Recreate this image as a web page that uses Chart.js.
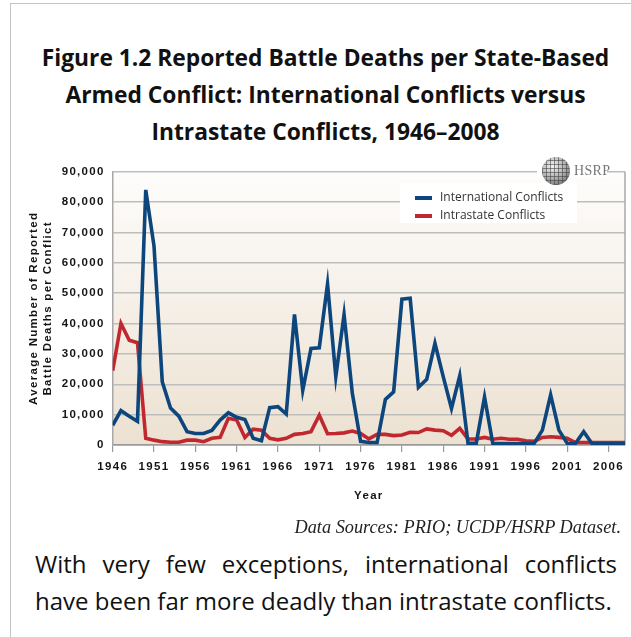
<!DOCTYPE html>
<html>
<head>
<meta charset="utf-8">
<script src="https://cdn.jsdelivr.net/npm/chart.js@4.4.1/dist/chart.umd.min.js"></script>
<style>
  html, body { margin: 0; padding: 0; background: #fff; }
  body { width: 631px; height: 637px; position: relative; overflow: hidden; }
  #frame { position: absolute; left: 10px; top: 3px; right: -2px; bottom: -2px;
           border-left: 1.5px solid #c4c4c4; border-top: 1.5px solid #c4c4c4; }
  #title { position: absolute; left: 20px; width: 611px; top: 38.5px; text-align: center;
           font-family: "Open Sans", sans-serif; font-weight: 700; font-size: 22.8px;
           line-height: 37px; color: #111; }
  #chartWrap { position: absolute; left: 0; top: 150px; width: 631px; height: 370px; }
  #legend { position: absolute; left: 400px; top: 183px; width: 177px; height: 40px;
            background: #fff; }
  .lg { position: absolute; left: 15px; height: 16px; font-family: "Open Sans", sans-serif;
        font-size: 12px; color: #333; white-space: nowrap; }
  .lg i { position: absolute; left: 0; top: 7px; width: 17px; height: 4px; }
  .lg span { position: absolute; left: 25px; top: -1px; }
  #logoMask { position: absolute; left: 537px; top: 166px; width: 70px; height: 11px; background: #fff; }
  #globe { position: absolute; left: 542px; top: 157px; width: 28px; height: 28px; border-radius: 50%;
           background:
             repeating-linear-gradient(90deg, rgba(60,60,60,0.55) 0 1px, transparent 1px 4px),
             repeating-linear-gradient(0deg, rgba(60,60,60,0.55) 0 1px, transparent 1px 4px),
             radial-gradient(circle at 38% 32%, #f4f4f4 0%, #b5b5b5 45%, #6e6e6e 85%, #555 100%); }
  #hsrp { position: absolute; left: 574px; top: 163px; font-family: "Liberation Serif", serif;
          font-size: 14px; color: #777; letter-spacing: 0.3px; }
  #source { position: absolute; right: 10px; top: 517px; font-family: "Liberation Serif", serif;
            font-style: italic; font-size: 18.3px; line-height: 21px; color: #222; }
  #body1, #body2 { position: absolute; left: 35px; width: 582px; font-family: "Open Sans", sans-serif;
            font-size: 24px; line-height: 33px; color: #111; white-space: nowrap; }
  #body1 { top: 546.5px; text-align: justify; text-align-last: justify; white-space: normal; }
  #body2 { top: 583.5px; }
</style>
</head>
<body>
<div id="frame"></div>
<div id="title">Figure 1.2 Reported Battle Deaths per State-Based<br>Armed Conflict: International Conflicts versus<br>Intrastate Conflicts, 1946–2008</div>
<div id="chartWrap"><canvas id="c" width="631" height="370"></canvas></div>
<div id="legend"></div>
<div id="logoMask"></div>
<div id="globe"></div>
<div id="hsrp">HSRP</div>
<div id="source">Data Sources: PRIO; UCDP/HSRP Dataset.</div>
<div id="body1">With very few exceptions, international conflicts</div>
<div id="body2">have been far more deadly than intrastate conflicts.</div>
<script>
const years = [1946,1947,1948,1949,1950,1951,1952,1953,1954,1955,1956,1957,1958,1959,1960,
  1961,1962,1963,1964,1965,1966,1967,1968,1969,1970,1971,1972,1973,1974,1975,
  1976,1977,1978,1979,1980,1981,1982,1983,1984,1985,1986,1987,1988,1989,1990,
  1991,1992,1993,1994,1995,1996,1997,1998,1999,2000,2001,2002,2003,2004,2005,
  2006,2007,2008];
const international = [6500,11300,9500,7800,84000,65500,20800,12200,9500,4400,3800,3800,4800,8200,10600,
  9100,8400,2200,1400,12300,12600,10200,43000,18000,31800,32000,53000,22500,43000,17000,
  1200,800,800,15000,17500,48000,48300,19000,21600,33500,22500,12000,22800,600,600,
  15800,500,500,500,500,500,500,4900,16500,4900,600,500,4400,500,500,
  500,500,500];
const intrastate = [24500,40000,34500,33700,2200,1600,1100,900,900,1600,1600,1100,2200,2500,8800,
  8200,2500,5200,4900,2200,1700,2200,3500,3800,4400,9800,3700,3800,4000,4600,
  3800,2000,3500,3500,3100,3300,4200,4100,5300,4900,4700,3200,5500,2000,2000,
  2500,1900,2200,1900,1900,1400,1200,2500,2700,2500,2200,800,800,800,800,
  800,800,800];
const xTickYears = [1946,1951,1956,1961,1966,1971,1976,1981,1986,1991,1996,2001,2006];
const yTickValues = [0,10000,20000,30000,40000,50000,60000,70000,80000,90000];
const seriesNames = ['International Conflicts', 'Intrastate Conflicts'];
const seriesColors = ['#0d467c', '#c1272f'];

const toPoints = arr => arr.map((v, i) => ({x: years[i], y: v}));

const bgPlugin = {
  id: 'bg',
  beforeDraw(chart) {
    const {ctx, chartArea: a} = chart;
    ctx.save();
    const g = ctx.createLinearGradient(0, a.top, 0, a.bottom);
    g.addColorStop(0, '#fefdfc');
    g.addColorStop(1, '#ece1d1');
    ctx.fillStyle = g;
    ctx.fillRect(a.left, a.top, a.right - a.left, a.bottom - a.top);
    ctx.restore();
    ctx.letterSpacing = '1.3px';
  },
  beforeDatasetsDraw(chart) {
    const {ctx, chartArea: a} = chart;
    ctx.save();
    ctx.strokeStyle = '#a8a8a8';
    ctx.lineWidth = 1.5;
    ctx.beginPath();
    ctx.moveTo(a.right, a.top);
    ctx.lineTo(a.right, a.bottom);
    ctx.stroke();
    ctx.restore();
  }
};

const tickFont = {family: '"Liberation Sans", Arial, sans-serif', size: 11.5, weight: 'bold'};

new Chart(document.getElementById('c'), {
  type: 'line',
  data: {
    datasets: [
      {label: seriesNames[0], data: toPoints(international), borderColor: seriesColors[0],
       backgroundColor: seriesColors[0], borderWidth: 3.6, pointRadius: 0, tension: 0, fill: false},
      {label: seriesNames[1], data: toPoints(intrastate), borderColor: seriesColors[1],
       backgroundColor: seriesColors[1], borderWidth: 3.6, pointRadius: 0, tension: 0, fill: false}
    ]
  },
  options: {
    responsive: false,
    animation: false,
    devicePixelRatio: 1,
    layout: {padding: {top: 21.7, right: 6, left: 0, bottom: 0}},
    plugins: {legend: {display: false}, tooltip: {enabled: false}},
    scales: {
      x: {
        type: 'linear', min: 1946, max: 2008,
        afterBuildTicks: s => { s.ticks = xTickYears.map(v => ({value: v})); },
        afterFit: s => { s.height = 75; },
        ticks: {callback: v => String(v), font: tickFont, color: '#151515', padding: 8, maxRotation: 0, autoSkip: false},
        grid: {drawOnChartArea: false, drawTicks: true, tickLength: 7, color: '#9a9a9a', lineWidth: 1.2},
        border: {display: true, color: '#9a9a9a', width: 1.5},
        title: {display: true, text: 'Year', font: tickFont, color: '#151515', padding: {top: 0, bottom: 17}}
      },
      y: {
        min: 0, max: 90000,
        afterBuildTicks: s => { s.ticks = yTickValues.map(v => ({value: v})); },
        afterFit: s => { s.width = 112.7; },
        ticks: {callback: v => v.toLocaleString('en-US'), font: tickFont, color: '#151515', padding: 8},
        grid: {drawTicks: false, color: ctx => ctx.tick && ctx.tick.value === 0 ? '#9a9a9a' : '#bdbdbd', lineWidth: 1.5},
        border: {display: true, color: '#a8a8a8', width: 1.5},
        title: {display: true, text: ['Average Number of Reported', 'Battle Deaths per Conflict'],
                font: tickFont, color: '#151515', padding: {top: 27, bottom: 0}}
      }
    }
  },
  plugins: [bgPlugin]
});

const lg = document.getElementById('legend');
seriesNames.forEach((name, i) => {
  const d = document.createElement('div');
  d.className = 'lg';
  d.style.top = (6 + i * 17.5) + 'px';
  d.innerHTML = '<i style="background:' + seriesColors[i] + '"></i><span></span>';
  d.querySelector('span').textContent = name;
  lg.appendChild(d);
});
</script>
</body>
</html>
